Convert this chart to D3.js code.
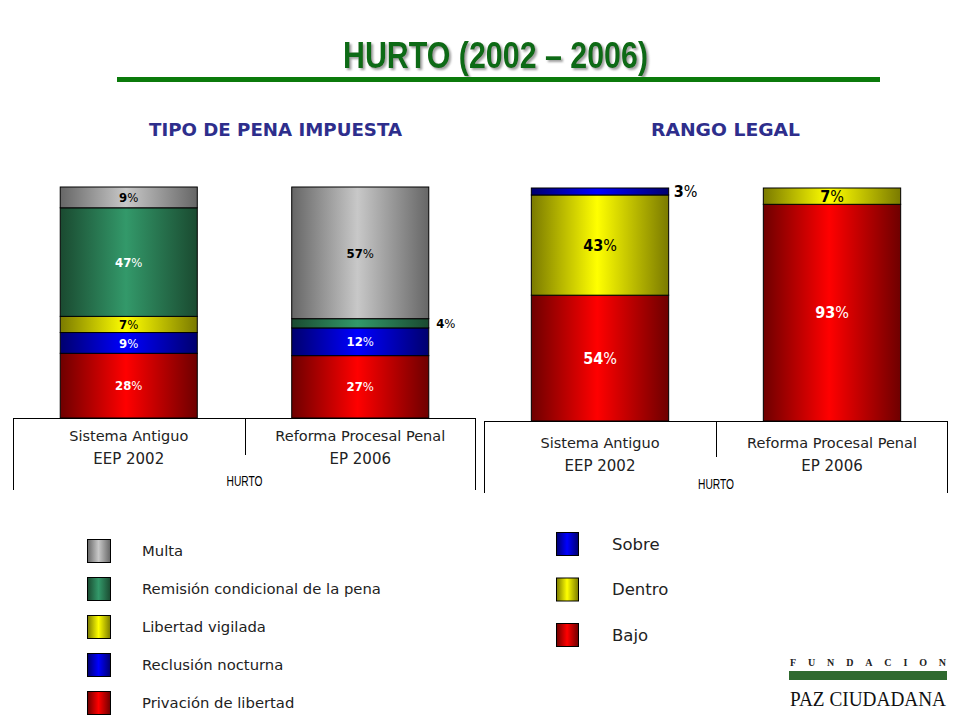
<!DOCTYPE html>
<html>
<head>
<meta charset="utf-8">
<script src="https://cdn.jsdelivr.net/npm/d3@7"></script>
<style>
  html, body { margin: 0; padding: 0; background: #fff; }
  svg { display: block; }
</style>
</head>
<body>
<svg id="chart" width="960" height="720"></svg>
<script>
// ---------------- DATA ----------------
const titleText = "HURTO (2002 – 2006)";
const leftTitle = "TIPO DE PENA IMPUESTA";
const rightTitle = "RANGO LEGAL";
const axisTitle = "HURTO";
const categoryLine1 = ["Sistema Antiguo", "Reforma Procesal Penal"];
const categoryLine2 = ["EEP 2002", "EP 2006"];

// Tipo de pena (stacked bottom -> top)
const penaSeries = ["Privación de libertad", "Reclusión nocturna", "Libertad vigilada", "Remisión condicional de la pena", "Multa"];
const privacionValues = [28, 27];
const reclusionValues = [9, 12];
const libertadValues = [7, 0];
const remisionValues = [47, 4];
const multaValues = [9, 57];

// Rango legal (stacked bottom -> top)
const rangoSeries = ["Bajo", "Dentro", "Sobre"];
const bajoValues = [54, 93];
const dentroValues = [43, 7];
const sobreValues = [3, 0];

// ---------------- STYLES ----------------
const palette = {
  red:    { edge: "#6e0000", mid: "#ff0000" },
  blue:   { edge: "#00006e", mid: "#0000ff" },
  yellow: { edge: "#7a7a00", mid: "#ffff00" },
  green:  { edge: "#1a4a30", mid: "#33996a" },
  gray:   { edge: "#666666", mid: "#c8c8c8" }
};
const penaColor = ["red", "blue", "yellow", "green", "gray"];
const rangoColor = ["red", "yellow", "blue"];
const penaLabelFill = ["#fff", "#fff", "#000", "#fff", "#000"];
const rangoLabelFill = ["#fff", "#000", "#000"];

const svg = d3.select("#chart");
const defs = svg.append("defs");
Object.entries(palette).forEach(([k, c]) => {
  const g = defs.append("linearGradient").attr("id", "grad-" + k)
    .attr("x1", 0).attr("x2", 1).attr("y1", 0).attr("y2", 0);
  g.append("stop").attr("offset", "0%").attr("stop-color", c.edge);
  g.append("stop").attr("offset", "48%").attr("stop-color", c.mid);
  g.append("stop").attr("offset", "100%").attr("stop-color", c.edge);
});
const sh = defs.append("filter").attr("id", "shadow").attr("x", "-5%").attr("y", "-20%").attr("width", "115%").attr("height", "150%");
sh.append("feDropShadow").attr("dx", 2).attr("dy", 2).attr("stdDeviation", 0.8).attr("flood-color", "#888").attr("flood-opacity", 0.8);

// ---------------- TITLE ----------------
svg.append("text").attr("x", 495.5).attr("y", 68).attr("text-anchor", "middle")
  .attr("font-family", "'Liberation Sans Narrow', 'Liberation Sans', Arial, sans-serif").attr("font-weight", "bold")
  .attr("font-size", 36).attr("fill", "#0e6b12").attr("filter", "url(#shadow)")
  .attr("textLength", 305).attr("lengthAdjust", "spacingAndGlyphs")
  .text(titleText);
svg.append("rect").attr("x", 117).attr("y", 77).attr("width", 763).attr("height", 5).attr("fill", "#0b7a0b");

const subFont = "'DejaVu Sans', sans-serif";
svg.append("text").attr("x", 275.5).attr("y", 136).attr("text-anchor", "middle")
  .attr("font-family", subFont).attr("font-weight", "bold").attr("font-size", 17)
  .attr("fill", "#2e2e8c").attr("textLength", 253).attr("lengthAdjust", "spacingAndGlyphs").text(leftTitle);
svg.append("text").attr("x", 725.5).attr("y", 136).attr("text-anchor", "middle")
  .attr("font-family", subFont).attr("font-weight", "bold").attr("font-size", 17)
  .attr("fill", "#2e2e8c").attr("textLength", 149).attr("lengthAdjust", "spacingAndGlyphs").text(rightTitle);

// ---------------- CHART BUILDER ----------------
const labelFont = "'DejaVu Sans Condensed', 'DejaVu Sans', sans-serif";
const catFont = "'DejaVu Sans', sans-serif";

function drawChart(opts) {
  const { x0, x1, yTop, yBottom, series, valueArrays, colors, labelFills, labelSize, outside, boxBottom, midBottom, catY1, catY2, hurtoY } = opts;
  const g = svg.append("g");
  const x = d3.scaleBand().domain(categoryLine1).range([x0, x1])
    .paddingInner(0.408).paddingOuter(0.204);
  const y = d3.scaleLinear().domain([0, 100]).range([yBottom, yTop]);

  const rows = categoryLine1.map((c, i) => {
    const r = { cat: c };
    series.forEach((s, j) => r[s] = valueArrays[j][i]);
    return r;
  });
  const stacked = d3.stack().keys(series)(rows);

  stacked.forEach((layer, j) => {
    g.selectAll(null).data(layer.filter(d => d[1] - d[0] > 0)).join("rect")
      .attr("x", d => x(d.data.cat)).attr("width", x.bandwidth())
      .attr("y", d => y(d[1])).attr("height", d => y(d[0]) - y(d[1]))
      .attr("fill", "url(#grad-" + colors[j] + ")")
      .attr("stroke", "#000").attr("stroke-width", 1);
  });

  // labels
  stacked.forEach((layer, j) => {
    layer.forEach(d => {
      const v = d[1] - d[0];
      if (v <= 0) return;
      const key = series[j] + "|" + d.data.cat;
      const isOut = outside.includes(key);
      const cx = isOut ? x(d.data.cat) + x.bandwidth() + 17 : x(d.data.cat) + x.bandwidth() / 2;
      const cy = (y(d[0]) + y(d[1])) / 2;
      const t = g.append("text")
        .attr("x", cx).attr("y", cy).attr("dy", "0.36em")
        .attr("text-anchor", "middle")
        .attr("font-family", labelFont).attr("font-size", labelSize)
        .attr("fill", isOut ? "#000" : labelFills[j]);
      t.append("tspan").attr("font-weight", "bold").text(v);
      t.append("tspan").attr("font-weight", "normal").text("%");
    });
  });

  // category axis box
  const mid = (x(categoryLine1[0]) + x.bandwidth() + x(categoryLine1[1])) / 2;
  const ax = g.append("g").attr("stroke", "#000").attr("stroke-width", 1).attr("fill", "none");
  ax.append("line").attr("x1", x0).attr("x2", x1).attr("y1", yBottom + 0.5).attr("y2", yBottom + 0.5);
  ax.append("line").attr("x1", x0 + 0.5).attr("x2", x0 + 0.5).attr("y1", yBottom).attr("y2", boxBottom);
  ax.append("line").attr("x1", x1 - 0.5).attr("x2", x1 - 0.5).attr("y1", yBottom).attr("y2", boxBottom);
  ax.append("line").attr("x1", Math.round(mid) + 0.5).attr("x2", Math.round(mid) + 0.5).attr("y1", yBottom).attr("y2", midBottom);

  categoryLine1.forEach((c, i) => {
    const cx = x(c) + x.bandwidth() / 2;
    g.append("text").attr("x", cx).attr("y", catY1).attr("text-anchor", "middle")
      .attr("font-family", catFont).attr("font-size", 14.5).attr("fill", "#222").text(c);
    g.append("text").attr("x", cx).attr("y", catY2).attr("text-anchor", "middle")
      .attr("font-family", catFont).attr("font-size", 15).attr("fill", "#222").text(categoryLine2[i]);
  });
  g.append("text").attr("x", mid).attr("y", hurtoY).attr("text-anchor", "middle")
    .attr("font-family", "'Liberation Sans Narrow', 'Liberation Sans', sans-serif")
    .attr("font-size", 15).attr("fill", "#000")
    .attr("textLength", 36).attr("lengthAdjust", "spacingAndGlyphs").text(axisTitle);
}

drawChart({
  x0: 13, x1: 476, yTop: 187, yBottom: 418,
  series: penaSeries,
  valueArrays: [privacionValues, reclusionValues, libertadValues, remisionValues, multaValues],
  colors: penaColor, labelFills: penaLabelFill, labelSize: 13,
  outside: ["Remisión condicional de la pena|Reforma Procesal Penal"],
  boxBottom: 490, midBottom: 455, catY1: 441, catY2: 464, hurtoY: 486
});
drawChart({
  x0: 484, x1: 948, yTop: 188, yBottom: 421,
  series: rangoSeries,
  valueArrays: [bajoValues, dentroValues, sobreValues],
  colors: rangoColor, labelFills: rangoLabelFill, labelSize: 16,
  outside: ["Sobre|Sistema Antiguo"],
  boxBottom: 493, midBottom: 457, catY1: 448, catY2: 471, hurtoY: 489
});

// ---------------- LEGENDS ----------------
const legFont = "'DejaVu Sans', sans-serif";
const penaLegendOrder = penaSeries.slice().reverse();
const penaLegendColor = penaColor.slice().reverse();
const lg1 = svg.append("g");
const ly1 = d3.scalePoint().domain(penaLegendOrder).range([551, 703]);
penaLegendOrder.forEach((s, i) => {
  lg1.append("rect").attr("x", 87.5).attr("y", ly1(s) - 11.5).attr("width", 23).attr("height", 23)
    .attr("fill", "url(#grad-" + penaLegendColor[i] + ")").attr("stroke", "#000");
  lg1.append("text").attr("x", 142).attr("y", ly1(s) + 5).attr("font-family", legFont)
    .attr("font-size", 14.8).attr("fill", "#222").text(s);
});

const rangoLegendOrder = rangoSeries.slice().reverse();
const rangoLegendColor = rangoColor.slice().reverse();
const lg2 = svg.append("g");
const ly2 = d3.scalePoint().domain(rangoLegendOrder).range([544, 635]);
rangoLegendOrder.forEach((s, i) => {
  lg2.append("rect").attr("x", 556.5).attr("y", ly2(s) - 11.5).attr("width", 22).attr("height", 23)
    .attr("fill", "url(#grad-" + rangoLegendColor[i] + ")").attr("stroke", "#000");
  lg2.append("text").attr("x", 612).attr("y", ly2(s) + 5.5).attr("font-family", legFont)
    .attr("font-size", 16.5).attr("fill", "#222").text(s);
});

// ---------------- LOGO ----------------
const logo = svg.append("g");
logo.append("text").attr("x", 790).attr("y", 666).attr("font-family", "'Liberation Serif', serif")
  .attr("font-size", 10).attr("font-weight", "bold").attr("fill", "#222")
  .attr("textLength", 156).attr("lengthAdjust", "spacing").text("FUNDACION");
logo.append("rect").attr("x", 789).attr("y", 671).attr("width", 158).attr("height", 9).attr("fill", "#2f6a2f");
logo.append("text").attr("x", 790).attr("y", 706).attr("font-family", "'Liberation Serif', serif")
  .attr("font-size", 20).attr("fill", "#111")
  .attr("textLength", 156).attr("lengthAdjust", "spacingAndGlyphs").text("PAZ CIUDADANA");
</script>
</body>
</html>
